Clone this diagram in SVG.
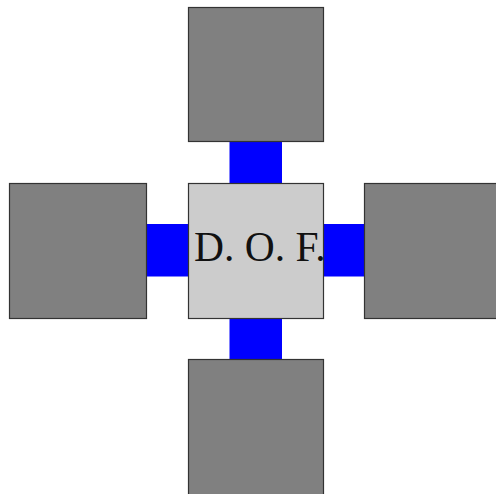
<svg xmlns="http://www.w3.org/2000/svg" width="496" height="494" viewBox="0 0 496 494">
<style>
.box{fill:#808080;stroke:#333;stroke-width:1.2}
.core{fill:#cccccc;stroke:#333;stroke-width:1.2}
.link{fill:#0000ff;stroke:none}
.lbl{font-family:"Liberation Serif",serif;font-size:41.5px;fill:#111}
</style>
<rect width="496" height="494" fill="#fff"/>
<g id="connectors">
<rect class="link" x="229.5" y="141.5" width="52.5" height="42"/>
<rect class="link" x="229.5" y="318.5" width="52.5" height="41"/>
<rect class="link" x="146.5" y="224" width="42" height="52.5"/>
<rect class="link" x="323.5" y="224" width="41" height="52.5"/>
</g>
<g id="top"><rect class="box" x="188.5" y="7.5" width="135" height="134"/></g>
<g id="left"><rect class="box" x="9.5" y="183.5" width="137" height="135"/></g>
<g id="right"><rect class="box" x="364.5" y="183.5" width="140" height="135"/></g>
<g id="bottom"><rect class="box" x="188.5" y="359.5" width="135" height="140"/></g>
<g id="center"><rect class="core" x="188.5" y="183.5" width="135" height="135"/>
<text class="lbl" x="194" y="261">D. O. F.</text></g>
</svg>
